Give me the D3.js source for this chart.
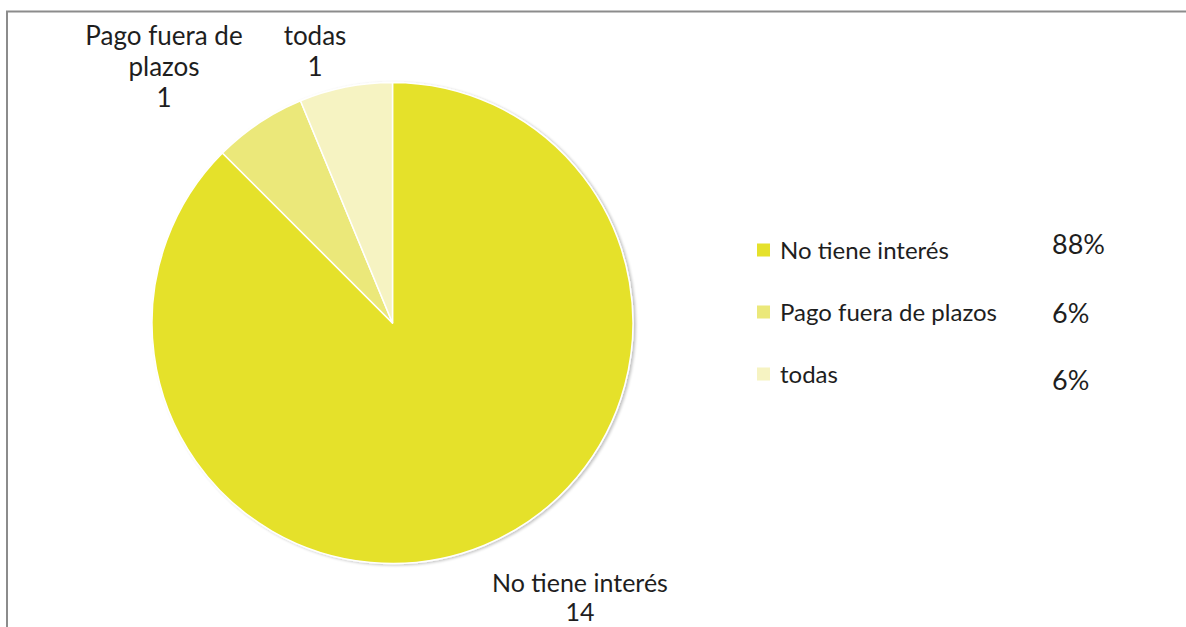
<!DOCTYPE html>
<html>
<head>
<meta charset="utf-8">
<script src="https://cdn.jsdelivr.net/npm/d3@7"></script>
<style>
  html, body { margin: 0; padding: 0; background: #fff; }
  svg { display: block; }
  text { font-family: Lato, "Open Sans", sans-serif; fill: #1e1e1e; }
</style>
</head>
<body>
<svg id="chart" width="1186" height="627"></svg>
<script>
// Survey answers and counts
const categories = ["No tiene interés", "Pago fuera de plazos", "todas"];
const counts = [14, 1, 1];
// Slice labels as they wrap outside the pie
const sliceLabelLines = [["No tiene interés"], ["Pago fuera de", "plazos"], ["todas"]];
const colors = ["#e5e12b", "#ebe87a", "#f6f3c2"];

const W = 1186, H = 627;
const svg = d3.select("#chart");

// Frame around the chart area
svg.append("rect")
  .attr("x", 7).attr("y", 11.5)
  .attr("width", W + 10).attr("height", H + 10)
  .attr("fill", "none").attr("stroke", "#8c8c8c").attr("stroke-width", 2);

const cx = 392.5, cy = 323, R = 240.5;
const total = d3.sum(counts);
const data = categories.map((c, i) => ({ name: c, value: counts[i], color: colors[i], lines: sliceLabelLines[i] }));

const pie = d3.pie().sort(null).value(d => d.value).startAngle(0).endAngle(2 * Math.PI);
const arc = d3.arc().innerRadius(0).outerRadius(R);
const arcs = pie(data);

// Soft shadow under the pie
const defs = svg.append("defs");
const f = defs.append("filter").attr("id", "shadow").attr("x", "-10%").attr("y", "-10%").attr("width", "120%").attr("height", "120%");
f.append("feGaussianBlur").attr("in", "SourceAlpha").attr("stdDeviation", 1.5).attr("result", "b");
f.append("feOffset").attr("in", "b").attr("dx", 1.5).attr("dy", 1).attr("result", "o");
f.append("feComponentTransfer").attr("in", "o").attr("result", "s")
  .append("feFuncA").attr("type", "linear").attr("slope", 0.25);
const m = f.append("feMerge");
m.append("feMergeNode").attr("in", "s");
m.append("feMergeNode").attr("in", "SourceGraphic");

const g = svg.append("g").attr("transform", `translate(${cx},${cy})`).attr("filter", "url(#shadow)");
g.selectAll("path")
  .data(arcs)
  .join("path")
  .attr("d", arc)
  .attr("fill", d => d.data.color)
  .attr("stroke", "#ffffff")
  .attr("stroke-width", 1.5)
  .attr("stroke-linejoin", "round");

// Slice labels: category name followed by the count
const labelAnchors = [
  { x: 580, y: 592, lh: 29, fs: 25 },
  { x: 164, y: 45, lh: 31, fs: 26 },
  { x: 315, y: 45, lh: 31, fs: 26 }
];
arcs.forEach((a, i) => {
  const lines = a.data.lines.concat([String(a.data.value)]);
  const t = svg.append("text")
    .attr("text-anchor", "middle")
    .attr("font-size", labelAnchors[i].fs);
  lines.forEach((ln, k) => {
    t.append("tspan").attr("x", labelAnchors[i].x).attr("y", labelAnchors[i].y + k * labelAnchors[i].lh).text(ln);
  });
});

// Legend with percentages
const legendX = 757, legendY0 = 250, legendStep = 62;
const pctFmt = v => Math.round(v / total * 100) + "%";
const lg = svg.append("g");
data.forEach((d, i) => {
  const y = legendY0 + i * legendStep;
  lg.append("rect").attr("x", legendX).attr("y", y - 6.5).attr("width", 13).attr("height", 13).attr("fill", d.color);
  lg.append("text").attr("x", legendX + 23).attr("y", y + 9).attr("font-size", 24).text(d.name);
});
const pctY = [254, 323, 390];
data.forEach((d, i) => {
  lg.append("text").attr("x", 1052).attr("y", pctY[i]).attr("font-size", 27).text(pctFmt(d.value));
});
</script>
</body>
</html>
